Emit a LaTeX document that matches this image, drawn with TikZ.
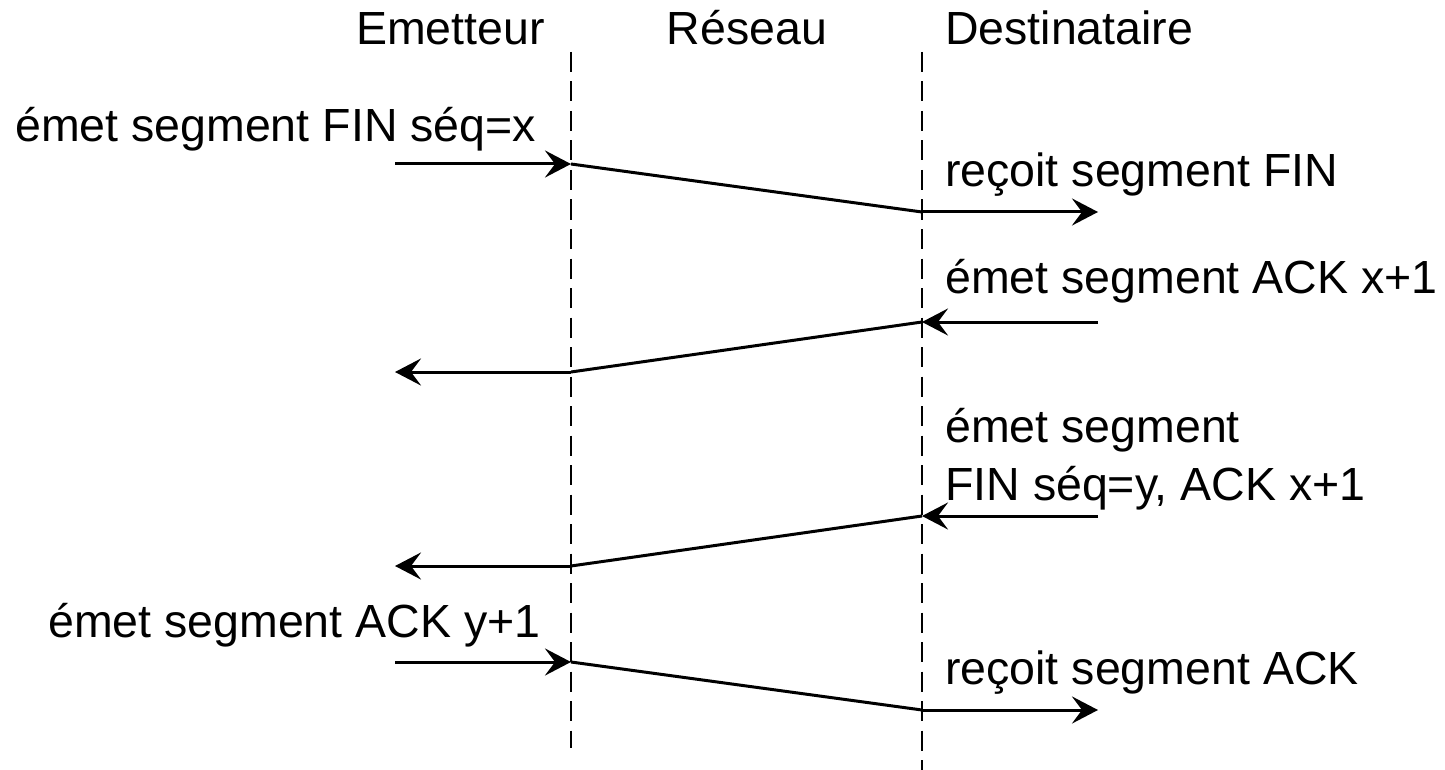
\documentclass[tikz,border=0pt]{standalone}
\usepackage{fontspec}
\setmainfont{Liberation Sans}
\usetikzlibrary{arrows.meta}
\begin{document}
\begin{tikzpicture}[x=1pt,y=-1pt,
  txt/.style={inner sep=0pt,font=\fontsize{46.5}{54}\selectfont},
  lbl/.style={txt,anchor=base west},
  lifeline/.style={line width=2.8pt,dash pattern=on 20pt off 9.5pt},
  msg/.style={line width=3pt},
  arr/.style={line width=3pt,-{Stealth[length=26pt,width=27pt,inset=10pt]}}]
\useasboundingbox (0,0) rectangle (1445,770);
% column headers
\node[txt,anchor=base east] (hE) at (545,45) {Emetteur};
\node[txt,anchor=base] (hR) at (747,45) {Réseau};
\node[lbl] (hD) at (945,45) {Destinataire};
% lifelines
\coordinate (eTop) at (571,52);
\coordinate (eBot) at (571,748);
\coordinate (dTop) at (922,52);
\coordinate (dBot) at (922,770);
\draw[lifeline] (eTop) -- (eBot);
\draw[lifeline] (dTop) -- (dBot);
% message points
\coordinate (a0) at (395,164); \coordinate (a1) at (571,164);
\coordinate (a2) at (922,212); \coordinate (a3) at (1098,212);
\coordinate (b0) at (1098,322); \coordinate (b1) at (922,322);
\coordinate (b2) at (571,372); \coordinate (b3) at (395,372);
\coordinate (c0) at (1098,516); \coordinate (c1) at (922,516);
\coordinate (c2) at (571,566); \coordinate (c3) at (395,566);
\coordinate (d0) at (395,662); \coordinate (d1) at (571,662);
\coordinate (d2) at (922,710); \coordinate (d3) at (1098,710);
% FIN from sender
\draw[arr] (a0) -- (a1);
\draw[msg] (a1) -- (a2);
\draw[arr] (a2) -- (a3);
% ACK x+1
\draw[arr] (b0) -- (b1);
\draw[msg] (b1) -- (b2);
\draw[arr] (b2) -- (b3);
% FIN from receiver
\draw[arr] (c0) -- (c1);
\draw[msg] (c1) -- (c2);
\draw[arr] (c2) -- (c3);
% final ACK
\draw[arr] (d0) -- (d1);
\draw[msg] (d1) -- (d2);
\draw[arr] (d2) -- (d3);
% labels
\node[lbl] (t1) at (15,142) {émet segment FIN séq=x};
\node[lbl] (t2) at (945,186) {reçoit segment FIN};
\node[lbl] (t3) at (945,293) {émet segment ACK x+1};
\node[lbl] (t4) at (945,442) {émet segment};
\node[lbl] (t5) at (945,500) {FIN séq=y, ACK x+1};
\node[lbl] (t6) at (48,637) {émet segment ACK y+1};
\node[lbl] (t7) at (945,684) {reçoit segment ACK};
\end{tikzpicture}
\end{document}
